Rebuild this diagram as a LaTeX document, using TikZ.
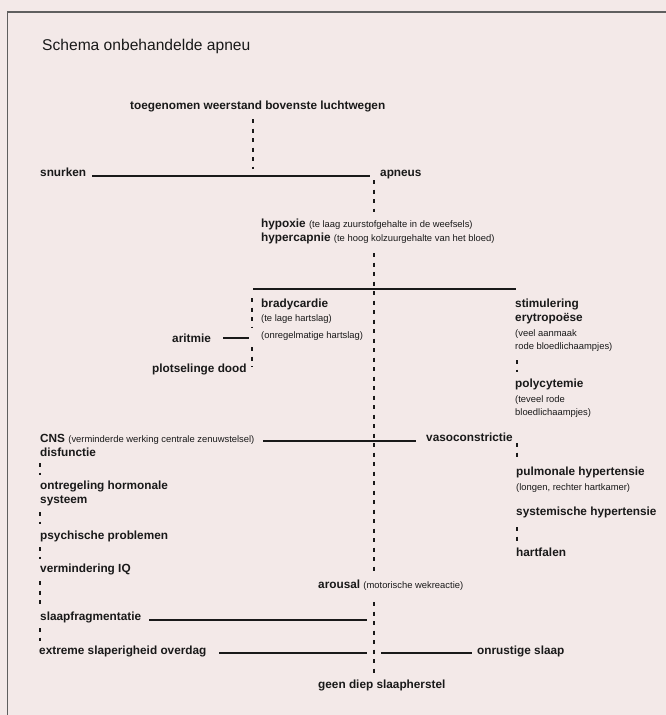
\documentclass[tikz,border=0pt]{standalone}
\usepackage{fontspec}
\setmainfont{Liberation Sans}
\definecolor{bg}{RGB}{243,233,232}
\definecolor{ink}{RGB}{25,25,25}
\definecolor{framec}{RGB}{95,95,95}
\newcommand\smalltxt[1]{{\fontsize{9.4}{11}\selectfont\mdseries #1}}
\begin{document}
\begin{tikzpicture}[x=1pt,y=-1pt,
  lbl/.style={anchor=base west,inner sep=0pt,font=\fontsize{11.8}{14}\selectfont\bfseries,text=ink},
  sm/.style={anchor=base west,inner sep=0pt,font=\fontsize{9.4}{11}\selectfont,text=ink},
  ttl/.style={anchor=base west,inner sep=0pt,font=\fontsize{15.6}{18}\selectfont,text=ink},
  conn/.style={draw=ink,line width=1.3pt},
  dconn/.style={draw=ink,line width=1.3pt,dash pattern=on 4pt off 5.5pt}]
\useasboundingbox (0,0) rectangle (666,715);
\fill[bg] (0,0) rectangle (666,715);
\draw[framec,line width=1.5pt] (7.3,715) -- (7.3,12) -- (666,12);

% title
\node[ttl] (title) at (42,50) {Schema onbehandelde apneu};

% text nodes
\node[lbl] (toeg) at (130,109) {toegenomen weerstand bovenste luchtwegen};
\node[lbl] (snurken) at (40,176) {snurken};
\node[lbl] (apneus) at (380,176) {apneus};
\node[lbl] (hypoxie) at (261,227.5) {hypoxie \smalltxt{(te laag zuurstofgehalte in de weefsels)}};
\node[lbl] (hypercapnie) at (261,241) {hypercapnie \smalltxt{(te hoog kolzuurgehalte van het bloed)}};
\node[lbl] (brady) at (261,307) {bradycardie};
\node[sm] (telage) at (261,321) {(te lage hartslag)};
\node[sm] (onregel) at (261,338) {(onregelmatige hartslag)};
\node[lbl] (aritmie) at (172,342) {aritmie};
\node[lbl] (plots) at (152,372) {plotselinge dood};
\node[lbl] (stim) at (515,307) {stimulering};
\node[lbl] (eryt) at (515,321) {erytropoëse};
\node[sm] (veel) at (515,336) {(veel aanmaak};
\node[sm] (rode) at (515,349) {rode bloedlichaampjes)};
\node[lbl] (poly) at (515,387) {polycytemie};
\node[sm] (teveel) at (515,402) {(teveel rode};
\node[sm] (bloed) at (515,415) {bloedlichaampjes)};
\node[lbl] (cns) at (40,442) {CNS \smalltxt{(verminderde werking centrale zenuwstelsel)}};
\node[lbl] (disf) at (40,456) {disfunctie};
\node[lbl] (vaso) at (426,441) {vasoconstrictie};
\node[lbl] (ontreg) at (40,489) {ontregeling hormonale};
\node[lbl] (systeem) at (40,503) {systeem};
\node[lbl] (psych) at (40,539) {psychische problemen};
\node[lbl] (verm) at (40,572) {vermindering IQ};
\node[lbl] (pulm) at (516,475) {pulmonale hypertensie};
\node[sm] (longen) at (516,490) {(longen, rechter hartkamer)};
\node[lbl] (syst) at (516,515) {systemische hypertensie};
\node[lbl] (hartf) at (516,556) {hartfalen};
\node[lbl] (arousal) at (318,588) {arousal \smalltxt{(motorische wekreactie)}};
\node[lbl] (slaapfr) at (40,620) {slaapfragmentatie};
\node[lbl] (extreme) at (39,654) {extreme slaperigheid overdag};
\node[lbl] (onrust) at (477,654) {onrustige slaap};
\node[lbl] (geen) at (318,688) {geen diep slaapherstel};

% coordinates for connector ends
\coordinate (d1a) at (253,119);   \coordinate (d1b) at (253,169);
\coordinate (d2a) at (374,180);   \coordinate (d2b) at (374,212);
\coordinate (d3a) at (374,253);   \coordinate (d3b) at (374,575);
\coordinate (d4a) at (252,298);   \coordinate (d4b) at (252,328);
\coordinate (d5a) at (252,347);   \coordinate (d5b) at (252,367);
\coordinate (d6a) at (517,360);   \coordinate (d6b) at (517,372);
\coordinate (d7a) at (40,463);    \coordinate (d7b) at (40,475);
\coordinate (d8a) at (40,512);    \coordinate (d8b) at (40,524);
\coordinate (d9a) at (40,547);    \coordinate (d9b) at (40,559);
\coordinate (d10a) at (40,581);   \coordinate (d10b) at (40,608);
\coordinate (d11a) at (40,628);   \coordinate (d11b) at (40,641);
\coordinate (d12a) at (374,602);  \coordinate (d12b) at (374,674);
\coordinate (d13a) at (517,443);  \coordinate (d13b) at (517,458);
\coordinate (d14a) at (517,527);  \coordinate (d14b) at (517,541);

\coordinate (s1a) at (92,176);   \coordinate (s1b) at (370,176);
\coordinate (s2a) at (253,289);  \coordinate (s2b) at (516,289);
\coordinate (s3a) at (223,338);  \coordinate (s3b) at (249,338);
\coordinate (s4a) at (263,441);  \coordinate (s4b) at (416,441);
\coordinate (s5a) at (149,620);  \coordinate (s5b) at (367,620);
\coordinate (s6a) at (219,653);  \coordinate (s6b) at (367,653);
\coordinate (s7a) at (381,653);  \coordinate (s7b) at (472,653);

% dashed connectors
\foreach \i in {1,...,14} \draw[dconn] (d\i a) -- (d\i b);
% solid connectors
\foreach \i in {1,...,7} \draw[conn] (s\i a) -- (s\i b);
\end{tikzpicture}
\end{document}
